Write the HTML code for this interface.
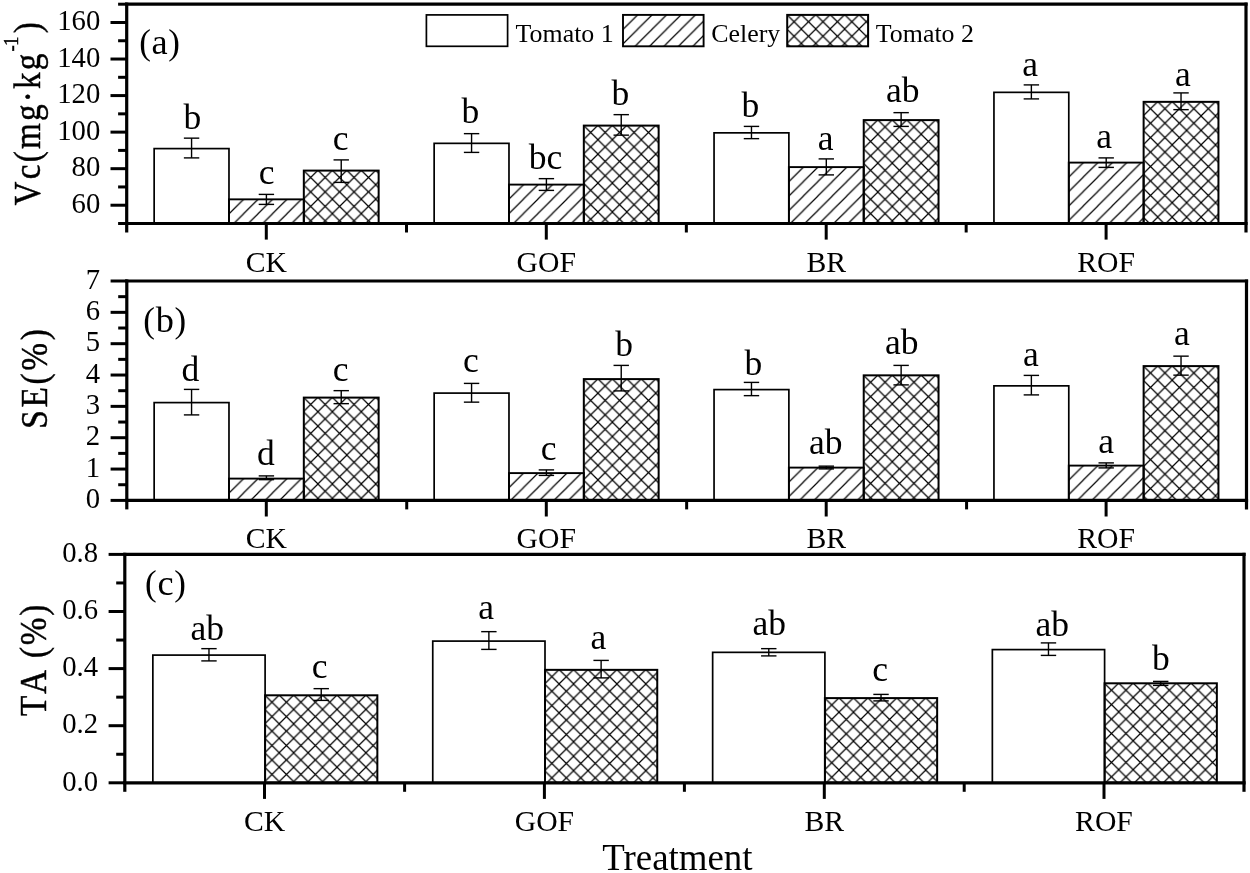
<!DOCTYPE html>
<html><head><meta charset="utf-8"><title>chart</title>
<style>html,body{margin:0;padding:0;background:#fff;}svg{display:block;will-change:transform;}</style>
</head><body>
<svg width="1250" height="873" viewBox="0 0 1250 873" font-family='"Liberation Serif", serif' fill="#000">
<defs>
<pattern id="h1" patternUnits="userSpaceOnUse" width="14.45" height="14.45" x="0.05" y="0.05">
  <path d="M-2,16.45 L16.45,-2 M-16.45,16.45 L16.45,-16.45 M-2,30.9 L30.9,-2" stroke="#000" stroke-width="1.2" fill="none"/>
</pattern>
<pattern id="h2" patternUnits="userSpaceOnUse" width="14.45" height="14.45" x="-0.35" y="-0.35">
  <path d="M-2,16.45 L16.45,-2 M-16.45,16.45 L16.45,-16.45 M-2,30.9 L30.9,-2 M-2,-2 L16.45,16.45 M12.45,-2 L30.9,16.45 M-2,12.45 L16.45,30.9" stroke="#000" stroke-width="1.2" fill="none"/>
</pattern>
</defs>
<rect width="1250" height="873" fill="#fff"/>
<rect transform="translate(154.15,148.60)" x="0" y="0" width="74.83" height="74.90" fill="#fff" stroke="#000" stroke-width="1.7"/>
<rect transform="translate(228.98,199.35)" x="0" y="0" width="74.83" height="24.15" fill="url(#h1)" stroke="#000" stroke-width="1.9"/>
<rect transform="translate(303.82,170.60)" x="0" y="0" width="74.83" height="52.90" fill="url(#h2)" stroke="#000" stroke-width="2.0"/>
<line x1="191.57" y1="138.15" x2="191.57" y2="157.90" stroke="#000" stroke-width="1.4" />
<line x1="183.87" y1="138.15" x2="199.27" y2="138.15" stroke="#000" stroke-width="1.4" />
<line x1="183.87" y1="157.90" x2="199.27" y2="157.90" stroke="#000" stroke-width="1.4" />
<line x1="266.40" y1="194.40" x2="266.40" y2="204.40" stroke="#000" stroke-width="1.4" />
<line x1="258.70" y1="194.40" x2="274.10" y2="194.40" stroke="#000" stroke-width="1.4" />
<line x1="258.70" y1="204.40" x2="274.10" y2="204.40" stroke="#000" stroke-width="1.4" />
<line x1="341.23" y1="159.90" x2="341.23" y2="182.40" stroke="#000" stroke-width="1.4" />
<line x1="333.53" y1="159.90" x2="348.93" y2="159.90" stroke="#000" stroke-width="1.4" />
<line x1="333.53" y1="182.40" x2="348.93" y2="182.40" stroke="#000" stroke-width="1.4" />
<rect transform="translate(434.15,143.35)" x="0" y="0" width="74.83" height="80.15" fill="#fff" stroke="#000" stroke-width="1.7"/>
<rect transform="translate(508.98,184.60)" x="0" y="0" width="74.83" height="38.90" fill="url(#h1)" stroke="#000" stroke-width="1.9"/>
<rect transform="translate(583.82,125.60)" x="0" y="0" width="74.83" height="97.90" fill="url(#h2)" stroke="#000" stroke-width="2.0"/>
<line x1="471.57" y1="133.65" x2="471.57" y2="152.40" stroke="#000" stroke-width="1.4" />
<line x1="463.87" y1="133.65" x2="479.27" y2="133.65" stroke="#000" stroke-width="1.4" />
<line x1="463.87" y1="152.40" x2="479.27" y2="152.40" stroke="#000" stroke-width="1.4" />
<line x1="546.40" y1="178.65" x2="546.40" y2="190.40" stroke="#000" stroke-width="1.4" />
<line x1="538.70" y1="178.65" x2="554.10" y2="178.65" stroke="#000" stroke-width="1.4" />
<line x1="538.70" y1="190.40" x2="554.10" y2="190.40" stroke="#000" stroke-width="1.4" />
<line x1="621.23" y1="114.65" x2="621.23" y2="135.15" stroke="#000" stroke-width="1.4" />
<line x1="613.53" y1="114.65" x2="628.93" y2="114.65" stroke="#000" stroke-width="1.4" />
<line x1="613.53" y1="135.15" x2="628.93" y2="135.15" stroke="#000" stroke-width="1.4" />
<rect transform="translate(714.05,132.85)" x="0" y="0" width="74.83" height="90.65" fill="#fff" stroke="#000" stroke-width="1.7"/>
<rect transform="translate(788.88,167.10)" x="0" y="0" width="74.83" height="56.40" fill="url(#h1)" stroke="#000" stroke-width="1.9"/>
<rect transform="translate(863.72,120.10)" x="0" y="0" width="74.83" height="103.40" fill="url(#h2)" stroke="#000" stroke-width="2.0"/>
<line x1="751.47" y1="126.40" x2="751.47" y2="138.65" stroke="#000" stroke-width="1.4" />
<line x1="743.77" y1="126.40" x2="759.17" y2="126.40" stroke="#000" stroke-width="1.4" />
<line x1="743.77" y1="138.65" x2="759.17" y2="138.65" stroke="#000" stroke-width="1.4" />
<line x1="826.30" y1="158.90" x2="826.30" y2="174.90" stroke="#000" stroke-width="1.4" />
<line x1="818.60" y1="158.90" x2="834.00" y2="158.90" stroke="#000" stroke-width="1.4" />
<line x1="818.60" y1="174.90" x2="834.00" y2="174.90" stroke="#000" stroke-width="1.4" />
<line x1="901.13" y1="112.65" x2="901.13" y2="126.40" stroke="#000" stroke-width="1.4" />
<line x1="893.43" y1="112.65" x2="908.83" y2="112.65" stroke="#000" stroke-width="1.4" />
<line x1="893.43" y1="126.40" x2="908.83" y2="126.40" stroke="#000" stroke-width="1.4" />
<rect transform="translate(993.95,92.35)" x="0" y="0" width="74.83" height="131.15" fill="#fff" stroke="#000" stroke-width="1.7"/>
<rect transform="translate(1068.78,162.60)" x="0" y="0" width="74.83" height="60.90" fill="url(#h1)" stroke="#000" stroke-width="1.9"/>
<rect transform="translate(1143.62,101.85)" x="0" y="0" width="74.83" height="121.65" fill="url(#h2)" stroke="#000" stroke-width="2.0"/>
<line x1="1031.37" y1="84.90" x2="1031.37" y2="98.90" stroke="#000" stroke-width="1.4" />
<line x1="1023.67" y1="84.90" x2="1039.07" y2="84.90" stroke="#000" stroke-width="1.4" />
<line x1="1023.67" y1="98.90" x2="1039.07" y2="98.90" stroke="#000" stroke-width="1.4" />
<line x1="1106.20" y1="157.90" x2="1106.20" y2="167.40" stroke="#000" stroke-width="1.4" />
<line x1="1098.50" y1="157.90" x2="1113.90" y2="157.90" stroke="#000" stroke-width="1.4" />
<line x1="1098.50" y1="167.40" x2="1113.90" y2="167.40" stroke="#000" stroke-width="1.4" />
<line x1="1181.03" y1="92.90" x2="1181.03" y2="109.65" stroke="#000" stroke-width="1.4" />
<line x1="1173.33" y1="92.90" x2="1188.73" y2="92.90" stroke="#000" stroke-width="1.4" />
<line x1="1173.33" y1="109.65" x2="1188.73" y2="109.65" stroke="#000" stroke-width="1.4" />
<line x1="126.70" y1="2.60" x2="126.70" y2="232.50" stroke="#000" stroke-width="3.2" />
<line x1="1246.00" y1="2.60" x2="1246.00" y2="232.50" stroke="#000" stroke-width="3.2" />
<line x1="125.10" y1="4.20" x2="1247.60" y2="4.20" stroke="#000" stroke-width="3.2" />
<line x1="125.10" y1="223.50" x2="1247.60" y2="223.50" stroke="#000" stroke-width="3.2" />
<line x1="110.50" y1="22.48" x2="126.70" y2="22.48" stroke="#000" stroke-width="3.0" />
<line x1="110.50" y1="59.03" x2="126.70" y2="59.03" stroke="#000" stroke-width="3.0" />
<line x1="110.50" y1="95.58" x2="126.70" y2="95.58" stroke="#000" stroke-width="3.0" />
<line x1="110.50" y1="132.12" x2="126.70" y2="132.12" stroke="#000" stroke-width="3.0" />
<line x1="110.50" y1="168.68" x2="126.70" y2="168.68" stroke="#000" stroke-width="3.0" />
<line x1="110.50" y1="205.22" x2="126.70" y2="205.22" stroke="#000" stroke-width="3.0" />
<line x1="118.10" y1="4.20" x2="126.70" y2="4.20" stroke="#000" stroke-width="3.0" />
<line x1="118.10" y1="40.75" x2="126.70" y2="40.75" stroke="#000" stroke-width="3.0" />
<line x1="118.10" y1="77.30" x2="126.70" y2="77.30" stroke="#000" stroke-width="3.0" />
<line x1="118.10" y1="113.85" x2="126.70" y2="113.85" stroke="#000" stroke-width="3.0" />
<line x1="118.10" y1="150.40" x2="126.70" y2="150.40" stroke="#000" stroke-width="3.0" />
<line x1="118.10" y1="186.95" x2="126.70" y2="186.95" stroke="#000" stroke-width="3.0" />
<line x1="118.10" y1="223.50" x2="126.70" y2="223.50" stroke="#000" stroke-width="3.0" />
<text x="100.30" y="30.18" font-size="28.7" text-anchor="end" >160</text>
<text x="100.30" y="66.73" font-size="28.7" text-anchor="end" >140</text>
<text x="100.30" y="103.28" font-size="28.7" text-anchor="end" >120</text>
<text x="100.30" y="139.82" font-size="28.7" text-anchor="end" >100</text>
<text x="100.30" y="176.38" font-size="28.7" text-anchor="end" >80</text>
<text x="100.30" y="212.92" font-size="28.7" text-anchor="end" >60</text>
<line x1="266.30" y1="223.50" x2="266.30" y2="239.60" stroke="#000" stroke-width="3.0" />
<line x1="546.30" y1="223.50" x2="546.30" y2="239.60" stroke="#000" stroke-width="3.0" />
<line x1="826.20" y1="223.50" x2="826.20" y2="239.60" stroke="#000" stroke-width="3.0" />
<line x1="1106.10" y1="223.50" x2="1106.10" y2="239.60" stroke="#000" stroke-width="3.0" />
<line x1="406.52" y1="223.50" x2="406.52" y2="232.50" stroke="#000" stroke-width="3.0" />
<line x1="686.35" y1="223.50" x2="686.35" y2="232.50" stroke="#000" stroke-width="3.0" />
<line x1="966.17" y1="223.50" x2="966.17" y2="232.50" stroke="#000" stroke-width="3.0" />
<text x="266.30" y="271.50" font-size="29.7" text-anchor="middle" >CK</text>
<text x="546.30" y="271.50" font-size="29.7" text-anchor="middle" >GOF</text>
<text x="826.20" y="271.50" font-size="29.7" text-anchor="middle" >BR</text>
<text x="1106.10" y="271.50" font-size="29.7" text-anchor="middle" >ROF</text>
<text x="192.25" y="128.80" font-size="35.5" text-anchor="middle" >b</text>
<text x="266.62" y="184.05" font-size="35.5" text-anchor="middle" >c</text>
<text x="340.62" y="149.55" font-size="35.5" text-anchor="middle" >c</text>
<text x="470.25" y="122.80" font-size="35.5" text-anchor="middle" >b</text>
<text x="545.62" y="168.80" font-size="35.5" text-anchor="middle" >bc</text>
<text x="620.25" y="105.30" font-size="35.5" text-anchor="middle" >b</text>
<text x="750.25" y="117.30" font-size="35.5" text-anchor="middle" >b</text>
<text x="825.62" y="149.55" font-size="35.5" text-anchor="middle" >a</text>
<text x="902.88" y="102.05" font-size="35.5" text-anchor="middle" >ab</text>
<text x="1030.12" y="76.30" font-size="35.5" text-anchor="middle" >a</text>
<text x="1104.12" y="147.55" font-size="35.5" text-anchor="middle" >a</text>
<text x="1183.00" y="85.80" font-size="35.5" text-anchor="middle" >a</text>
<text x="159.9" y="54.0" text-anchor="middle" letter-spacing="0.7"><tspan font-size="35">(</tspan><tspan font-size="36.3">a</tspan><tspan font-size="35">)</tspan></text>
<rect x="426.4" y="14.9" width="81.2" height="31.4" fill="#fff" stroke="#000" stroke-width="1.7"/>
<rect transform="translate(623.0,14.9)" x="0" y="0" width="80.6" height="31.4" fill="url(#h1)" stroke="#000" stroke-width="1.9"/>
<rect transform="translate(787.2,14.9)" x="0" y="0" width="80.9" height="31.4" fill="url(#h2)" stroke="#000" stroke-width="2.0"/>
<text x="515.60" y="42.20" font-size="25.9" text-anchor="start" >Tomato 1</text>
<text x="711.30" y="42.20" font-size="25.9" text-anchor="start" >Celery</text>
<text x="875.80" y="42.20" font-size="25.9" text-anchor="start" >Tomato 2</text>
<text transform="translate(39.6,205.4) rotate(-90) scale(0.86,1)" font-size="38.6" text-anchor="start" letter-spacing="2.55" style="font-kerning:none" stroke="#000" stroke-width="0.45">Vc(mg·kg<tspan font-size="22" dy="-22" letter-spacing="-1">-1</tspan><tspan dy="22" dx="5.0">)</tspan></text>
<rect transform="translate(154.15,402.60)" x="0" y="0" width="74.83" height="97.80" fill="#fff" stroke="#000" stroke-width="1.7"/>
<rect transform="translate(228.98,478.60)" x="0" y="0" width="74.83" height="21.80" fill="url(#h1)" stroke="#000" stroke-width="1.9"/>
<rect transform="translate(303.82,397.60)" x="0" y="0" width="74.83" height="102.80" fill="url(#h2)" stroke="#000" stroke-width="2.0"/>
<line x1="191.57" y1="389.40" x2="191.57" y2="414.90" stroke="#000" stroke-width="1.4" />
<line x1="183.87" y1="389.40" x2="199.27" y2="389.40" stroke="#000" stroke-width="1.4" />
<line x1="183.87" y1="414.90" x2="199.27" y2="414.90" stroke="#000" stroke-width="1.4" />
<line x1="266.40" y1="475.90" x2="266.40" y2="479.65" stroke="#000" stroke-width="1.4" />
<line x1="258.70" y1="475.90" x2="274.10" y2="475.90" stroke="#000" stroke-width="1.4" />
<line x1="258.70" y1="479.65" x2="274.10" y2="479.65" stroke="#000" stroke-width="1.4" />
<line x1="341.23" y1="390.65" x2="341.23" y2="403.65" stroke="#000" stroke-width="1.4" />
<line x1="333.53" y1="390.65" x2="348.93" y2="390.65" stroke="#000" stroke-width="1.4" />
<line x1="333.53" y1="403.65" x2="348.93" y2="403.65" stroke="#000" stroke-width="1.4" />
<rect transform="translate(434.15,393.10)" x="0" y="0" width="74.83" height="107.30" fill="#fff" stroke="#000" stroke-width="1.7"/>
<rect transform="translate(508.98,473.10)" x="0" y="0" width="74.83" height="27.30" fill="url(#h1)" stroke="#000" stroke-width="1.9"/>
<rect transform="translate(583.82,379.10)" x="0" y="0" width="74.83" height="121.30" fill="url(#h2)" stroke="#000" stroke-width="2.0"/>
<line x1="471.57" y1="383.40" x2="471.57" y2="402.15" stroke="#000" stroke-width="1.4" />
<line x1="463.87" y1="383.40" x2="479.27" y2="383.40" stroke="#000" stroke-width="1.4" />
<line x1="463.87" y1="402.15" x2="479.27" y2="402.15" stroke="#000" stroke-width="1.4" />
<line x1="546.40" y1="469.90" x2="546.40" y2="475.40" stroke="#000" stroke-width="1.4" />
<line x1="538.70" y1="469.90" x2="554.10" y2="469.90" stroke="#000" stroke-width="1.4" />
<line x1="538.70" y1="475.40" x2="554.10" y2="475.40" stroke="#000" stroke-width="1.4" />
<line x1="621.23" y1="365.40" x2="621.23" y2="390.90" stroke="#000" stroke-width="1.4" />
<line x1="613.53" y1="365.40" x2="628.93" y2="365.40" stroke="#000" stroke-width="1.4" />
<line x1="613.53" y1="390.90" x2="628.93" y2="390.90" stroke="#000" stroke-width="1.4" />
<rect transform="translate(714.05,389.60)" x="0" y="0" width="74.83" height="110.80" fill="#fff" stroke="#000" stroke-width="1.7"/>
<rect transform="translate(788.88,467.60)" x="0" y="0" width="74.83" height="32.80" fill="url(#h1)" stroke="#000" stroke-width="1.9"/>
<rect transform="translate(863.72,375.35)" x="0" y="0" width="74.83" height="125.05" fill="url(#h2)" stroke="#000" stroke-width="2.0"/>
<line x1="751.47" y1="382.40" x2="751.47" y2="395.65" stroke="#000" stroke-width="1.4" />
<line x1="743.77" y1="382.40" x2="759.17" y2="382.40" stroke="#000" stroke-width="1.4" />
<line x1="743.77" y1="395.65" x2="759.17" y2="395.65" stroke="#000" stroke-width="1.4" />
<line x1="826.30" y1="466.15" x2="826.30" y2="468.90" stroke="#000" stroke-width="1.4" />
<line x1="818.60" y1="466.15" x2="834.00" y2="466.15" stroke="#000" stroke-width="1.4" />
<line x1="818.60" y1="468.90" x2="834.00" y2="468.90" stroke="#000" stroke-width="1.4" />
<line x1="901.13" y1="365.40" x2="901.13" y2="384.90" stroke="#000" stroke-width="1.4" />
<line x1="893.43" y1="365.40" x2="908.83" y2="365.40" stroke="#000" stroke-width="1.4" />
<line x1="893.43" y1="384.90" x2="908.83" y2="384.90" stroke="#000" stroke-width="1.4" />
<rect transform="translate(993.95,385.85)" x="0" y="0" width="74.83" height="114.55" fill="#fff" stroke="#000" stroke-width="1.7"/>
<rect transform="translate(1068.78,465.60)" x="0" y="0" width="74.83" height="34.80" fill="url(#h1)" stroke="#000" stroke-width="1.9"/>
<rect transform="translate(1143.62,366.10)" x="0" y="0" width="74.83" height="134.30" fill="url(#h2)" stroke="#000" stroke-width="2.0"/>
<line x1="1031.37" y1="375.40" x2="1031.37" y2="394.90" stroke="#000" stroke-width="1.4" />
<line x1="1023.67" y1="375.40" x2="1039.07" y2="375.40" stroke="#000" stroke-width="1.4" />
<line x1="1023.67" y1="394.90" x2="1039.07" y2="394.90" stroke="#000" stroke-width="1.4" />
<line x1="1106.20" y1="462.90" x2="1106.20" y2="467.90" stroke="#000" stroke-width="1.4" />
<line x1="1098.50" y1="462.90" x2="1113.90" y2="462.90" stroke="#000" stroke-width="1.4" />
<line x1="1098.50" y1="467.90" x2="1113.90" y2="467.90" stroke="#000" stroke-width="1.4" />
<line x1="1181.03" y1="356.15" x2="1181.03" y2="375.15" stroke="#000" stroke-width="1.4" />
<line x1="1173.33" y1="356.15" x2="1188.73" y2="356.15" stroke="#000" stroke-width="1.4" />
<line x1="1173.33" y1="375.15" x2="1188.73" y2="375.15" stroke="#000" stroke-width="1.4" />
<line x1="126.80" y1="279.40" x2="126.80" y2="509.40" stroke="#000" stroke-width="3.2" />
<line x1="1246.50" y1="279.40" x2="1246.50" y2="509.40" stroke="#000" stroke-width="3.2" />
<line x1="125.20" y1="281.00" x2="1248.10" y2="281.00" stroke="#000" stroke-width="3.2" />
<line x1="125.20" y1="500.40" x2="1248.10" y2="500.40" stroke="#000" stroke-width="3.2" />
<line x1="110.60" y1="500.40" x2="126.80" y2="500.40" stroke="#000" stroke-width="3.0" />
<line x1="110.60" y1="469.06" x2="126.80" y2="469.06" stroke="#000" stroke-width="3.0" />
<line x1="110.60" y1="437.71" x2="126.80" y2="437.71" stroke="#000" stroke-width="3.0" />
<line x1="110.60" y1="406.37" x2="126.80" y2="406.37" stroke="#000" stroke-width="3.0" />
<line x1="110.60" y1="375.03" x2="126.80" y2="375.03" stroke="#000" stroke-width="3.0" />
<line x1="110.60" y1="343.69" x2="126.80" y2="343.69" stroke="#000" stroke-width="3.0" />
<line x1="110.60" y1="312.34" x2="126.80" y2="312.34" stroke="#000" stroke-width="3.0" />
<line x1="110.60" y1="281.00" x2="126.80" y2="281.00" stroke="#000" stroke-width="3.0" />
<line x1="118.20" y1="484.73" x2="126.80" y2="484.73" stroke="#000" stroke-width="3.0" />
<line x1="118.20" y1="453.39" x2="126.80" y2="453.39" stroke="#000" stroke-width="3.0" />
<line x1="118.20" y1="422.04" x2="126.80" y2="422.04" stroke="#000" stroke-width="3.0" />
<line x1="118.20" y1="390.70" x2="126.80" y2="390.70" stroke="#000" stroke-width="3.0" />
<line x1="118.20" y1="359.36" x2="126.80" y2="359.36" stroke="#000" stroke-width="3.0" />
<line x1="118.20" y1="328.01" x2="126.80" y2="328.01" stroke="#000" stroke-width="3.0" />
<line x1="118.20" y1="296.67" x2="126.80" y2="296.67" stroke="#000" stroke-width="3.0" />
<text x="100.00" y="508.10" font-size="28.7" text-anchor="end" >0</text>
<text x="100.00" y="476.76" font-size="28.7" text-anchor="end" >1</text>
<text x="100.00" y="445.41" font-size="28.7" text-anchor="end" >2</text>
<text x="100.00" y="414.07" font-size="28.7" text-anchor="end" >3</text>
<text x="100.00" y="382.73" font-size="28.7" text-anchor="end" >4</text>
<text x="100.00" y="351.39" font-size="28.7" text-anchor="end" >5</text>
<text x="100.00" y="320.04" font-size="28.7" text-anchor="end" >6</text>
<text x="100.00" y="288.70" font-size="28.7" text-anchor="end" >7</text>
<line x1="266.30" y1="500.40" x2="266.30" y2="516.50" stroke="#000" stroke-width="3.0" />
<line x1="546.30" y1="500.40" x2="546.30" y2="516.50" stroke="#000" stroke-width="3.0" />
<line x1="826.20" y1="500.40" x2="826.20" y2="516.50" stroke="#000" stroke-width="3.0" />
<line x1="1106.10" y1="500.40" x2="1106.10" y2="516.50" stroke="#000" stroke-width="3.0" />
<line x1="406.73" y1="500.40" x2="406.73" y2="509.40" stroke="#000" stroke-width="3.0" />
<line x1="686.65" y1="500.40" x2="686.65" y2="509.40" stroke="#000" stroke-width="3.0" />
<line x1="966.58" y1="500.40" x2="966.58" y2="509.40" stroke="#000" stroke-width="3.0" />
<text x="266.30" y="547.50" font-size="29.7" text-anchor="middle" >CK</text>
<text x="546.30" y="547.50" font-size="29.7" text-anchor="middle" >GOF</text>
<text x="826.20" y="547.50" font-size="29.7" text-anchor="middle" >BR</text>
<text x="1106.10" y="547.50" font-size="29.7" text-anchor="middle" >ROF</text>
<text x="190.38" y="380.80" font-size="35.5" text-anchor="middle" >d</text>
<text x="265.88" y="464.80" font-size="35.5" text-anchor="middle" >d</text>
<text x="340.62" y="380.80" font-size="35.5" text-anchor="middle" >c</text>
<text x="471.00" y="372.05" font-size="35.5" text-anchor="middle" >c</text>
<text x="548.62" y="460.30" font-size="35.5" text-anchor="middle" >c</text>
<text x="624.12" y="355.80" font-size="35.5" text-anchor="middle" >b</text>
<text x="753.38" y="374.55" font-size="35.5" text-anchor="middle" >b</text>
<text x="825.75" y="453.80" font-size="35.5" text-anchor="middle" >ab</text>
<text x="901.88" y="353.80" font-size="35.5" text-anchor="middle" >ab</text>
<text x="1030.88" y="365.80" font-size="35.5" text-anchor="middle" >a</text>
<text x="1106.12" y="452.80" font-size="35.5" text-anchor="middle" >a</text>
<text x="1181.88" y="345.05" font-size="35.5" text-anchor="middle" >a</text>
<text x="165.1" y="332.3" text-anchor="middle" letter-spacing="0.7"><tspan font-size="35">(</tspan><tspan font-size="36.3">b</tspan><tspan font-size="35">)</tspan></text>
<text transform="translate(47.0,428.8) rotate(-90) scale(0.86,1)" font-size="38.8" text-anchor="start" letter-spacing="3.1" style="font-kerning:none" stroke="#000" stroke-width="0.45">SE(%)</text>
<rect transform="translate(152.85,655.10)" x="0" y="0" width="112.25" height="127.70" fill="#fff" stroke="#000" stroke-width="1.7"/>
<rect transform="translate(265.10,695.30)" x="0" y="0" width="112.25" height="87.50" fill="url(#h2)" stroke="#000" stroke-width="2.0"/>
<line x1="208.97" y1="648.65" x2="208.97" y2="660.90" stroke="#000" stroke-width="1.4" />
<line x1="201.28" y1="648.65" x2="216.67" y2="648.65" stroke="#000" stroke-width="1.4" />
<line x1="201.28" y1="660.90" x2="216.67" y2="660.90" stroke="#000" stroke-width="1.4" />
<line x1="321.23" y1="688.65" x2="321.23" y2="700.40" stroke="#000" stroke-width="1.4" />
<line x1="313.53" y1="688.65" x2="328.93" y2="688.65" stroke="#000" stroke-width="1.4" />
<line x1="313.53" y1="700.40" x2="328.93" y2="700.40" stroke="#000" stroke-width="1.4" />
<rect transform="translate(432.75,641.10)" x="0" y="0" width="112.25" height="141.70" fill="#fff" stroke="#000" stroke-width="1.7"/>
<rect transform="translate(545.00,669.85)" x="0" y="0" width="112.25" height="112.95" fill="url(#h2)" stroke="#000" stroke-width="2.0"/>
<line x1="488.88" y1="631.65" x2="488.88" y2="649.40" stroke="#000" stroke-width="1.4" />
<line x1="481.18" y1="631.65" x2="496.57" y2="631.65" stroke="#000" stroke-width="1.4" />
<line x1="481.18" y1="649.40" x2="496.57" y2="649.40" stroke="#000" stroke-width="1.4" />
<line x1="601.12" y1="660.40" x2="601.12" y2="677.90" stroke="#000" stroke-width="1.4" />
<line x1="593.42" y1="660.40" x2="608.83" y2="660.40" stroke="#000" stroke-width="1.4" />
<line x1="593.42" y1="677.90" x2="608.83" y2="677.90" stroke="#000" stroke-width="1.4" />
<rect transform="translate(712.65,652.35)" x="0" y="0" width="112.25" height="130.45" fill="#fff" stroke="#000" stroke-width="1.7"/>
<rect transform="translate(824.90,698.10)" x="0" y="0" width="112.25" height="84.70" fill="url(#h2)" stroke="#000" stroke-width="2.0"/>
<line x1="768.77" y1="648.65" x2="768.77" y2="655.90" stroke="#000" stroke-width="1.4" />
<line x1="761.07" y1="648.65" x2="776.48" y2="648.65" stroke="#000" stroke-width="1.4" />
<line x1="761.07" y1="655.90" x2="776.48" y2="655.90" stroke="#000" stroke-width="1.4" />
<line x1="881.02" y1="694.40" x2="881.02" y2="700.90" stroke="#000" stroke-width="1.4" />
<line x1="873.32" y1="694.40" x2="888.73" y2="694.40" stroke="#000" stroke-width="1.4" />
<line x1="873.32" y1="700.90" x2="888.73" y2="700.90" stroke="#000" stroke-width="1.4" />
<rect transform="translate(992.35,649.60)" x="0" y="0" width="112.25" height="133.20" fill="#fff" stroke="#000" stroke-width="1.7"/>
<rect transform="translate(1104.60,683.30)" x="0" y="0" width="112.25" height="99.50" fill="url(#h2)" stroke="#000" stroke-width="2.0"/>
<line x1="1048.47" y1="642.90" x2="1048.47" y2="655.40" stroke="#000" stroke-width="1.4" />
<line x1="1040.77" y1="642.90" x2="1056.17" y2="642.90" stroke="#000" stroke-width="1.4" />
<line x1="1040.77" y1="655.40" x2="1056.17" y2="655.40" stroke="#000" stroke-width="1.4" />
<line x1="1160.72" y1="681.40" x2="1160.72" y2="685.40" stroke="#000" stroke-width="1.4" />
<line x1="1153.02" y1="681.40" x2="1168.42" y2="681.40" stroke="#000" stroke-width="1.4" />
<line x1="1153.02" y1="685.40" x2="1168.42" y2="685.40" stroke="#000" stroke-width="1.4" />
<line x1="124.80" y1="552.80" x2="124.80" y2="791.80" stroke="#000" stroke-width="3.2" />
<line x1="1244.00" y1="552.80" x2="1244.00" y2="791.80" stroke="#000" stroke-width="3.2" />
<line x1="123.20" y1="554.40" x2="1245.60" y2="554.40" stroke="#000" stroke-width="3.2" />
<line x1="123.20" y1="782.80" x2="1245.60" y2="782.80" stroke="#000" stroke-width="3.2" />
<line x1="108.60" y1="782.80" x2="124.80" y2="782.80" stroke="#000" stroke-width="3.0" />
<line x1="108.60" y1="725.70" x2="124.80" y2="725.70" stroke="#000" stroke-width="3.0" />
<line x1="108.60" y1="668.60" x2="124.80" y2="668.60" stroke="#000" stroke-width="3.0" />
<line x1="108.60" y1="611.50" x2="124.80" y2="611.50" stroke="#000" stroke-width="3.0" />
<line x1="108.60" y1="554.40" x2="124.80" y2="554.40" stroke="#000" stroke-width="3.0" />
<line x1="116.20" y1="754.25" x2="124.80" y2="754.25" stroke="#000" stroke-width="3.0" />
<line x1="116.20" y1="697.15" x2="124.80" y2="697.15" stroke="#000" stroke-width="3.0" />
<line x1="116.20" y1="640.05" x2="124.80" y2="640.05" stroke="#000" stroke-width="3.0" />
<line x1="116.20" y1="582.95" x2="124.80" y2="582.95" stroke="#000" stroke-width="3.0" />
<text x="98.00" y="790.50" font-size="28.7" text-anchor="end" >0.0</text>
<text x="98.00" y="733.40" font-size="28.7" text-anchor="end" >0.2</text>
<text x="98.00" y="676.30" font-size="28.7" text-anchor="end" >0.4</text>
<text x="98.00" y="619.20" font-size="28.7" text-anchor="end" >0.6</text>
<text x="98.00" y="562.10" font-size="28.7" text-anchor="end" >0.8</text>
<line x1="264.50" y1="782.80" x2="264.50" y2="798.90" stroke="#000" stroke-width="3.0" />
<line x1="544.40" y1="782.80" x2="544.40" y2="798.90" stroke="#000" stroke-width="3.0" />
<line x1="824.30" y1="782.80" x2="824.30" y2="798.90" stroke="#000" stroke-width="3.0" />
<line x1="1104.00" y1="782.80" x2="1104.00" y2="798.90" stroke="#000" stroke-width="3.0" />
<line x1="404.60" y1="782.80" x2="404.60" y2="791.80" stroke="#000" stroke-width="3.0" />
<line x1="684.40" y1="782.80" x2="684.40" y2="791.80" stroke="#000" stroke-width="3.0" />
<line x1="964.20" y1="782.80" x2="964.20" y2="791.80" stroke="#000" stroke-width="3.0" />
<text x="264.50" y="830.80" font-size="29.7" text-anchor="middle" >CK</text>
<text x="544.40" y="830.80" font-size="29.7" text-anchor="middle" >GOF</text>
<text x="824.30" y="830.80" font-size="29.7" text-anchor="middle" >BR</text>
<text x="1104.00" y="830.80" font-size="29.7" text-anchor="middle" >ROF</text>
<text x="207.25" y="640.05" font-size="35.5" text-anchor="middle" >ab</text>
<text x="319.75" y="678.30" font-size="35.5" text-anchor="middle" >c</text>
<text x="486.25" y="618.80" font-size="35.5" text-anchor="middle" >a</text>
<text x="598.38" y="649.05" font-size="35.5" text-anchor="middle" >a</text>
<text x="769.38" y="634.55" font-size="35.5" text-anchor="middle" >ab</text>
<text x="880.12" y="680.80" font-size="35.5" text-anchor="middle" >c</text>
<text x="1052.38" y="635.80" font-size="35.5" text-anchor="middle" >ab</text>
<text x="1160.75" y="670.00" font-size="35.5" text-anchor="middle" >b</text>
<text x="165.8" y="594.6" text-anchor="middle" letter-spacing="0.7"><tspan font-size="35">(</tspan><tspan font-size="36.3">c</tspan><tspan font-size="35">)</tspan></text>
<text transform="translate(46.2,716.0) rotate(-90) scale(0.86,1)" font-size="38.6" text-anchor="start" letter-spacing="2.1" style="font-kerning:none" stroke="#000" stroke-width="0.45">TA (%)</text>
<text x="677.40" y="870.00" font-size="36.9" text-anchor="middle" >Treatment</text>
</svg>
</body></html>
